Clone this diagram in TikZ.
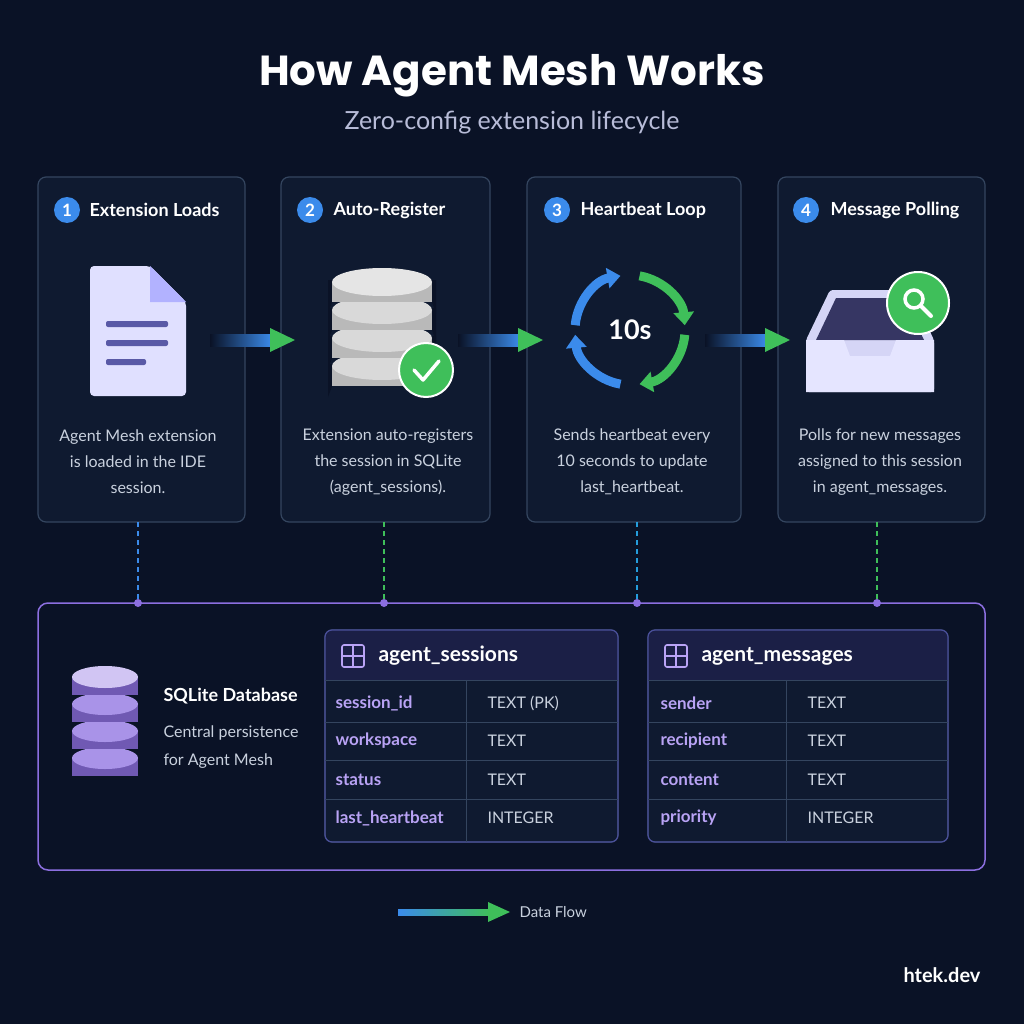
\documentclass[tikz,border=0pt]{standalone}
\usepackage{fontspec}
\setmainfont{Lato}
\newfontfamily\titlef{Poppins}
\usetikzlibrary{arrows.meta,shapes.geometric}
\definecolor{bg}{HTML}{0A1226}
\definecolor{card}{HTML}{0F1A30}
\definecolor{cardb}{HTML}{34455F}
\definecolor{blu}{HTML}{3B8BEB}
\definecolor{grn}{HTML}{3FBF5A}
\definecolor{purp}{HTML}{8C6FE0}
\definecolor{lav}{HTML}{B9A3F5}
\definecolor{txt}{HTML}{C9D1DE}
\definecolor{sub}{HTML}{B8BCD8}
\definecolor{tabh}{HTML}{1B1F46}
\definecolor{tabb}{HTML}{4A4F9A}
\tikzset{
 card/.style={draw=cardb,fill=card,rounded corners=8pt,line width=1.2pt},
 num/.style={circle,fill=blu,minimum size=26pt,inner sep=0,text=white,font=\bfseries\fontsize{17}{17}\selectfont},
 head/.style={anchor=west,text=white,font=\fontsize{18}{18}\selectfont\bfseries},
 desc/.style={text=txt,align=center,font=\fontsize{16}{26}\selectfont},
 dashln/.style={line width=1.5pt,dash pattern=on 5pt off 4pt},
 fld/.style={anchor=west,text=lav,font=\fontsize{17}{17}\selectfont\bfseries},
 typ/.style={anchor=west,text=txt,font=\fontsize{16}{16}\selectfont},
 tabn/.style={anchor=west,text=white,font=\fontsize{21}{21}\selectfont\bfseries},
}
\newcommand{\flowarrow}[1]{%
 \shade[left color=bg,right color=blu] (#1,334) rectangle (#1+62,346);
 \fill[grn] (#1+60,328) -- (#1+85,340) -- (#1+60,352) -- cycle;
}
\newcommand{\gridicon}[2]{%
 \draw[lav,line width=1.6pt,rounded corners=2pt] (#1-11,#2-11) rectangle (#1+11,#2+11);
 \draw[lav,line width=1.6pt] (#1,#2-11) -- (#1,#2+11) (#1-11,#2) -- (#1+11,#2);
}
% disc: cx, top y, rx, ry, height, side colour, top colour
\newcommand{\disc}[7]{%
 \filldraw[fill=#6,draw=bg,line width=4pt] (#1-#3,#2) -- (#1-#3,#2+#5) arc[start angle=180,end angle=360,x radius=#3,y radius=#4] -- (#1+#3,#2) -- cycle;
 \fill[#6] (#1-#3+2,#2) rectangle (#1+#3-2,#2+#5);
 \fill[#7] (#1,#2) ellipse[x radius=#3-2,y radius=#4];
}
\begin{document}
\begin{tikzpicture}[x=1pt,y=-1pt]
\fill[bg] (0,0) rectangle (1024,1024);
\useasboundingbox (0,0) rectangle (1024,1024);
\node[text=white,font=\titlef\bfseries\fontsize{42}{42}\selectfont] (title) at (512,76) {How Agent Mesh Works};
\node[text=sub,font=\fontsize{25}{25}\selectfont] (subt) at (512,123) {Zero-config extension lifecycle};

% cards
\draw[card] (38,177) rectangle (245,522);
\draw[card] (281,177) rectangle (490,522);
\draw[card] (527,177) rectangle (741,522);
\draw[card] (778,177) rectangle (985,522);
\node[num] (n1) at (67,210) {1}; \node[head] (h1) at (86,210) {Extension Loads};
\node[num] (n2) at (310,210) {2}; \node[head] (h2) at (330,210) {Auto-Register};
\node[num] (n3) at (557,210) {3}; \node[head] (h3) at (577,210) {Heartbeat Loop};
\node[num] (n4) at (806,210) {4}; \node[head] (h4) at (827,210) {Message Polling};
\node[desc] (d1) at (138,462) {Agent Mesh extension\\is loaded in the IDE\\session.};
\node[desc] (d2) at (388,462) {Extension auto-registers\\the session in SQLite\\(agent\_sessions).};
\node[desc] (d3) at (632,462) {Sends heartbeat every\\10 seconds to update\\last\_heartbeat.};
\node[desc] (d4) at (880,462) {Polls for new messages\\assigned to this session\\in agent\_messages.};

% doc icon
\fill[white!88!blue,rounded corners=4pt] (90,266) -- (150,266) -- (186,302) -- (186,396) -- (90,396) -- cycle;
\fill[white!70!blue] (150,266) -- (150,302) -- (186,302) -- cycle;
\foreach \yy/\w in {324/62,343/62,362/40}{\fill[gray!70!blue,rounded corners=2pt] (106,\yy-3) rectangle (106+\w,\yy+3);}

% db icon
\disc{382}{366}{52}{14}{20}{gray!55!white}{gray!30!white}
\disc{382}{338}{52}{14}{20}{gray!55!white}{gray!30!white}
\disc{382}{310}{52}{14}{20}{gray!55!white}{gray!30!white}
\disc{382}{282}{52}{14}{20}{gray!55!white}{gray!20!white}
\fill[grn,draw=white,line width=2pt] (426,370) circle (27);
\draw[white,line width=3.5pt,line cap=round,line join=round] (414,370) -- (423,380) -- (439,361);

% cycle icon
\node[text=white,font=\bfseries\fontsize{27}{27}\selectfont] (ten) at (630,330) {10s};
\begin{scope}[line width=9pt,-{Triangle[length=13pt,width=20pt]}]
\draw[blu] (630,330) ++(-175:55) arc[start angle=-175,end angle=-100,radius=55];
\draw[grn] (630,330) ++(-80:55) arc[start angle=-80,end angle=-5,radius=55];
\draw[grn] (630,330) ++(5:55) arc[start angle=5,end angle=80,radius=55];
\draw[blu] (630,330) ++(100:55) arc[start angle=100,end angle=175,radius=55];
\end{scope}

% inbox icon
\fill[gray!35!blue!20!white,rounded corners=3pt] (806,340) -- (830,290) -- (910,290) -- (934,340) -- (934,392) -- (806,392) -- cycle;
\fill[blue!30!gray!60!black] (816,340) -- (836,298) -- (904,298) -- (924,340) -- cycle;
\fill[white!90!blue] (806,340) -- (844,340) -- (850,356) -- (890,356) -- (896,340) -- (934,340) -- (934,392) -- (806,392) -- cycle;
\fill[grn,draw=white,line width=2pt] (918,303) circle (31);
\draw[white,line width=3.5pt] (914,299) circle (9);
\draw[white,line width=4pt,line cap=round] (921,306) -- (931,316);

% flow arrows
\flowarrow{210}
\flowarrow{458}
\flowarrow{705}

% panel
\draw[purp,line width=1.5pt,rounded corners=10pt] (38,603) rectangle (985,870);
\coordinate (p1) at (138,603); \coordinate (p2) at (384,603);
\coordinate (p3) at (637,603); \coordinate (p4) at (877,603);
\coordinate (c1) at (138,522); \coordinate (c2) at (384,522);
\coordinate (c3) at (637,522); \coordinate (c4) at (877,522);
\draw[dashln,blu] (c1) -- (p1); \draw[dashln,grn] (c2) -- (p2);
\draw[dashln,cyan!60!blu] (c3) -- (p3); \draw[dashln,grn] (c4) -- (p4);
\foreach \p in {p1,p2,p3,p4}{\fill[purp] (\p) circle (4);}

% purple db
\disc{105}{758}{35}{11}{18}{purp!80!black}{purp!75!white}
\disc{105}{731}{35}{11}{18}{purp!80!black}{purp!75!white}
\disc{105}{704}{35}{11}{18}{purp!80!black}{purp!75!white}
\disc{105}{677}{35}{11}{18}{purp!80!black}{purp!40!white}
\node[anchor=west,text=white,font=\bfseries\fontsize{18}{18}\selectfont] (sq) at (160,696) {SQLite Database};
\node[anchor=west,text=txt,align=left,font=\fontsize{16}{28}\selectfont] (sqd) at (160,747) {Central persistence\\for Agent Mesh};

% tables
\foreach \x/\xd/\xr/\nm [count=\i] in {325/466/618/agent\_sessions,648/786/948/agent\_messages}{
 \fill[card,rounded corners=7pt] (\x,630) rectangle (\xr,842);
 \fill[tabh,rounded corners=7pt] (\x,630) rectangle (\xr,680);
 \fill[tabh] (\x,665) rectangle (\xr,680);
 \draw[tabb,line width=1.2pt,rounded corners=7pt] (\x,630) rectangle (\xr,842);
 \foreach \yy in {680,722,760,799}{\draw[cardb,line width=1pt] (\x,\yy) -- (\xr,\yy);}
 \draw[cardb,line width=1pt] (\xd,680) -- (\xd,842);
 \gridicon{\x+28}{656}
 \node[tabn] (t\i) at (\x+50,656) {\nm};
}
\node[fld] (f11) at (332,703) {session\_id}; \node[typ] (y11) at (484,703) {TEXT (PK)};
\node[fld] (f12) at (332,741) {workspace}; \node[typ] (y12) at (484,741) {TEXT};
\node[fld] (f13) at (332,780) {status}; \node[typ] (y13) at (484,780) {TEXT};
\node[fld] (f14) at (332,818) {last\_heartbeat}; \node[typ] (y14) at (484,818) {INTEGER};
\node[fld] (f21) at (657,703) {sender}; \node[typ] (y21) at (804,703) {TEXT};
\node[fld] (f22) at (657,741) {recipient}; \node[typ] (y22) at (804,741) {TEXT};
\node[fld] (f23) at (657,780) {content}; \node[typ] (y23) at (804,780) {TEXT};
\node[fld] (f24) at (657,818) {priority}; \node[typ] (y24) at (804,818) {INTEGER};

% legend
\shade[left color=blu,right color=grn] (398,909) rectangle (490,915);
\fill[grn] (488,902) -- (510,912) -- (488,922) -- cycle;
\node[anchor=west,text=txt,font=\fontsize{15}{15}\selectfont] (lg) at (516,912) {Data Flow};
\node[text=white,font=\bfseries\fontsize{20}{20}\selectfont] (brand) at (942,975) {htek.dev};
\end{tikzpicture}
\end{document}
